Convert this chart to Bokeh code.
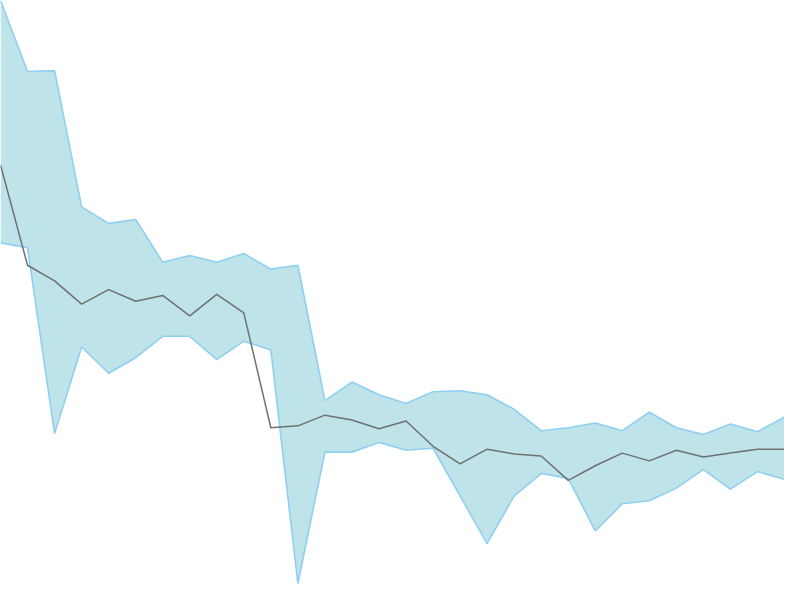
from bokeh.plotting import figure
from bokeh.models import Range1d
from bokeh.embed import file_html
from bokeh.resources import INLINE

# index of each sample
idx = list(range(30))
upper = [600, 527, 528, 388, 371, 375, 331, 338, 331, 340, 324, 328,
         189, 208, 195, 186, 198, 199, 195, 180, 158, 161, 166, 158,
         177, 161, 154, 165, 157, 172]
lower = [351, 346, 155, 244, 217, 233, 255, 255, 231, 250, 241, 1,
         136, 136, 146, 138, 140, 91, 42, 91, 114, 109, 55, 83,
         86, 99, 118, 98, 116, 108]
middle = [431, 328, 312, 288, 303, 291, 297, 276, 298, 279, 161, 163,
          174, 169, 160, 168, 142, 124, 139, 134, 132, 107, 122, 135,
          127, 138, 131, 135, 139, 139]

p = figure(width=784, height=584, output_backend="svg", toolbar_location=None,
           x_range=Range1d(0, len(idx) - 1),
           y_range=Range1d(0, 600), min_border=0)
p.axis.visible = False
p.grid.visible = False
p.outline_line_color = None
p.background_fill_color = "white"
p.border_fill_color = "white"

p.varea(x=idx, y1=lower, y2=upper, fill_color="#bee3e8", fill_alpha=1.0)
p.line(idx, upper, line_color="#8fcff2", line_width=1.6)
p.line(idx, lower, line_color="#8fcff2", line_width=1.6)
p.line(idx, middle, line_color="#707070", line_width=1.5)

open("out.html", "w").write(file_html(p, INLINE))
